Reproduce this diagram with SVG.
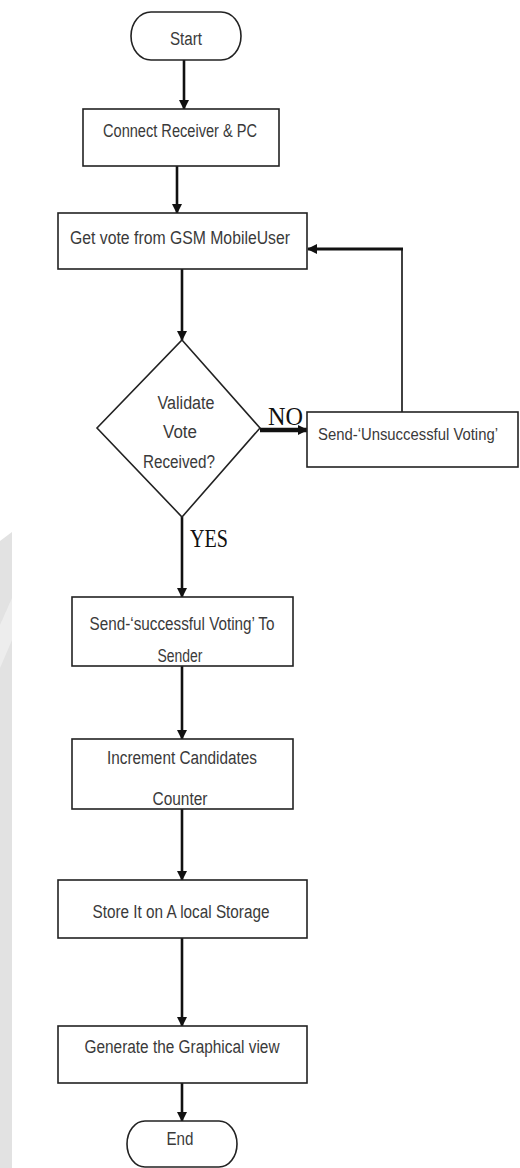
<svg xmlns="http://www.w3.org/2000/svg" width="520" height="1168" viewBox="0 0 520 1168">
<style>
.box{fill:#fff;stroke:#222;stroke-width:1.6}
.t{font-family:"Liberation Sans",Arial,sans-serif;font-size:18px;fill:#3a3a3a;text-anchor:middle}
.s{font-family:"Liberation Serif","Times New Roman",serif;font-size:26px;fill:#111}
.ln{stroke:#111;stroke-width:2.6;fill:none}
</style>
<defs>
<marker id="ah" markerWidth="10" markerHeight="10" refX="9" refY="5" orient="auto" markerUnits="userSpaceOnUse">
<path d="M0,0 L10,5 L0,10 Z" fill="#111"/>
</marker>
</defs>
<rect width="520" height="1168" fill="#fff"/>
<g id="watermark">
<polygon points="0,541 12,532 12,1168 0,1168" fill="#e2e2e2"/>
<polygon points="0,625 12,598 12,640 0,668" fill="#ededed"/>
</g>
<g id="connectors">
<line class="ln" x1="184" y1="60" x2="184" y2="109" marker-end="url(#ah)"/>
<line class="ln" x1="177" y1="166" x2="177" y2="213" marker-end="url(#ah)"/>
<line class="ln" x1="182" y1="269" x2="182" y2="340" marker-end="url(#ah)"/>
<line x1="260" y1="430" x2="307" y2="430" stroke="#111" stroke-width="4.5" marker-end="url(#ah)"/>
<polyline points="402,412 402,249" stroke="#111" stroke-width="1.6" fill="none"/>
<line x1="403" y1="249" x2="308" y2="249" stroke="#111" stroke-width="3" marker-end="url(#ah)"/>
<line class="ln" x1="182" y1="517" x2="182" y2="597" marker-end="url(#ah)"/>
<line class="ln" x1="182" y1="666" x2="182" y2="739" marker-end="url(#ah)"/>
<line class="ln" x1="182" y1="809" x2="182" y2="880" marker-end="url(#ah)"/>
<line class="ln" x1="182" y1="938" x2="182" y2="1026" marker-end="url(#ah)"/>
<line class="ln" x1="182" y1="1083" x2="182" y2="1121" marker-end="url(#ah)"/>
<text class="s" x="268" y="425" textLength="35" lengthAdjust="spacingAndGlyphs">NO</text>
<text class="s" x="190" y="547" textLength="38" lengthAdjust="spacingAndGlyphs">YES</text>
</g>
<g id="start">
<rect class="box" x="131" y="12" width="110" height="48" rx="20" ry="24"/>
<text class="t" x="186" y="45" textLength="32" lengthAdjust="spacingAndGlyphs">Start</text>
</g>
<g id="connect">
<rect class="box" x="83" y="109" width="196" height="57"/>
<text class="t" x="180" y="137" textLength="154" lengthAdjust="spacingAndGlyphs">Connect Receiver &amp; PC</text>
</g>
<g id="getvote">
<rect class="box" x="58" y="213" width="249" height="56"/>
<text class="t" x="180" y="244" textLength="220" lengthAdjust="spacingAndGlyphs">Get vote from GSM MobileUser</text>
</g>
<g id="validate">
<polygon class="box" points="182,340 260,428 182,517 97,428"/>
<text class="t" x="186" y="409" textLength="57" lengthAdjust="spacingAndGlyphs">Validate</text>
<text class="t" x="180" y="438" textLength="34" lengthAdjust="spacingAndGlyphs">Vote</text>
<text class="t" x="179" y="468" textLength="72" lengthAdjust="spacingAndGlyphs">Received?</text>
</g>
<g id="unsuccessful">
<rect class="box" x="307" y="412" width="211" height="55"/>
<text class="t" x="408" y="440" style="font-size:16px" textLength="180" lengthAdjust="spacingAndGlyphs">Send-‘Unsuccessful Voting’</text>
</g>
<g id="successful">
<rect class="box" x="72" y="597" width="221" height="69"/>
<text class="t" x="182" y="630" textLength="185" lengthAdjust="spacingAndGlyphs">Send-‘successful Voting’ To</text>
<text class="t" x="180" y="662" textLength="45" lengthAdjust="spacingAndGlyphs">Sender</text>
</g>
<g id="increment">
<rect class="box" x="72" y="739" width="221" height="70"/>
<text class="t" x="182" y="764" textLength="150" lengthAdjust="spacingAndGlyphs">Increment Candidates</text>
<text class="t" x="180" y="805" textLength="55" lengthAdjust="spacingAndGlyphs">Counter</text>
</g>
<g id="store">
<rect class="box" x="58" y="880" width="249" height="58"/>
<text class="t" x="181" y="918" textLength="177" lengthAdjust="spacingAndGlyphs">Store It on A local Storage</text>
</g>
<g id="generate">
<rect class="box" x="58" y="1026" width="249" height="57"/>
<text class="t" x="182" y="1053" textLength="195" lengthAdjust="spacingAndGlyphs">Generate the Graphical view</text>
</g>
<g id="end">
<rect class="box" x="127" y="1121" width="110" height="46" rx="18" ry="23"/>
<text class="t" x="180" y="1145" textLength="27" lengthAdjust="spacingAndGlyphs">End</text>
</g>
</svg>
